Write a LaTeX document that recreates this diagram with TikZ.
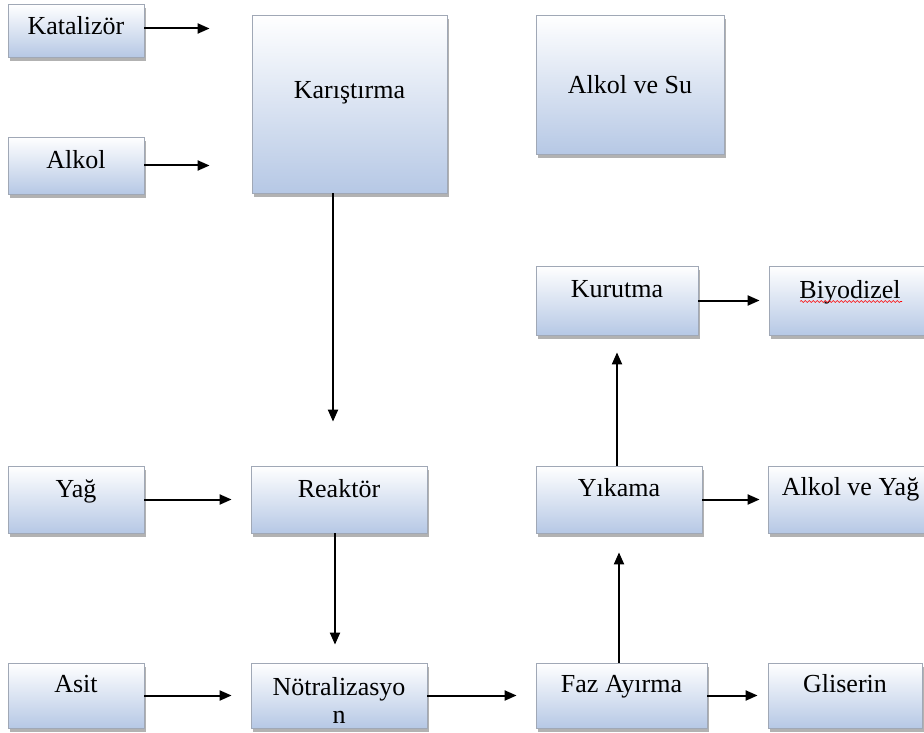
\documentclass[tikz,border=0pt]{standalone}
\usepackage{fontspec}
\setmainfont{Liberation Serif}
\usetikzlibrary{arrows.meta,shadows,decorations.pathmorphing}
\definecolor{kutumavi}{RGB}{182,200,229}
\definecolor{kenargri}{RGB}{160,168,182}

\begin{document}
\begin{tikzpicture}[x=1pt,y=-1pt,
    kutu/.style={draw=kenargri, line width=0.8pt, top color=white, bottom color=kutumavi,
      drop shadow={shadow xshift=2pt, shadow yshift=-4pt, fill=black!60, opacity=0.5},
      inner sep=2pt, font=\fontsize{26}{28}\selectfont, text height=18pt},
    ok/.style={-{Triangle[length=12pt,width=10pt]}, line width=2pt}]
    \useasboundingbox (0,0) rectangle (924,733);

    % girdiler
    \node[kutu, minimum width=136pt, minimum height=53pt, text depth=9pt] (kat) at (76,30.5) {Katalizör};
    \node[kutu, minimum width=136pt, minimum height=57pt, text depth=13pt] (alk) at (76,165.5) {Alkol};
    \node[kutu, minimum width=136pt, minimum height=67pt, text depth=22pt] (yag) at (76,499.5) {Yağ};
    \node[kutu, minimum width=136pt, minimum height=65pt, text depth=25pt] (asit) at (76,695.5) {Asit};

    % ana akis
    \node[kutu, minimum width=195pt, minimum height=178pt, text depth=28pt] (kar) at (349.5,104) {Karıştırma};
    \node[kutu, minimum width=176pt, minimum height=67pt, text depth=22pt] (rea) at (339,499.5) {Reaktör};
    \node[kutu, minimum width=176pt, minimum height=65pt, align=center, text height=55pt] (notr) at (339,695.5) {Nötralizasyo\\n};
    \node[kutu, minimum width=171pt, minimum height=65pt, text depth=25pt] (faz) at (621.5,695.5) {Faz Ayırma};
    \node[kutu, minimum width=166pt, minimum height=67pt, text depth=25pt] (yik) at (619,499.5) {Yıkama};
    \node[kutu, minimum width=162pt, minimum height=69pt, text depth=24pt] (kur) at (617,300.5) {Kurutma};

    % ciktilar
    \node[kutu, minimum width=188pt, minimum height=139pt, text depth=0pt] (alksu) at (630,84.5) {Alkol ve Su};
    \node[kutu, minimum width=162pt, minimum height=69pt, text depth=23pt] (biyo) at (850,300.5) {Biyodizel};
    \node[kutu, minimum width=165pt, minimum height=67pt, text depth=26pt] (alkyag) at (850.5,499.5) {Alkol ve Yağ};
    \node[kutu, minimum width=154pt, minimum height=65pt, text depth=25pt] (gli) at (845,695.5) {Gliserin};

    \draw[red, line width=0.6pt, decorate, decoration={snake, amplitude=1pt, segment length=4pt}]
      ([shift={(-50,1)}]biyo.center) -- ([shift={(52,1)}]biyo.center);

    % oklar
    \draw[ok, shorten >=42pt] ([yshift=2pt]kat.east) -- ([yshift=2pt]kat.east -| kar.west);
    \draw[ok, shorten >=42pt] (alk.east) -- (alk.east -| kar.west);
    \draw[ok, shorten >=44pt] ([xshift=-6pt]rea.north |- kar.south) -- ([xshift=-6pt]rea.north);
    \draw[ok, shorten >=19pt] (yag.east) -- (rea.west);
    \draw[ok, shorten >=18pt] ([xshift=-4pt]rea.south) -- ([xshift=-4pt]notr.north);
    \draw[ok, shorten >=19pt] (asit.east) -- (notr.west);
    \draw[ok, shorten >=19pt] (notr.east) -- (faz.west);
    \draw[ok, shorten >=10pt] (faz.east) -- (gli.west);
    \draw[ok, shorten >=19pt] (faz.north -| yik.south) -- (yik.south);
    \draw[ok, shorten >=8pt] (yik.east) -- (alkyag.west);
    \draw[ok, shorten >=17pt] (yik.north -| kur.south) -- (kur.south);
    \draw[ok, shorten >=9pt] (kur.east) -- (biyo.west);
  \end{tikzpicture}
\end{document}
